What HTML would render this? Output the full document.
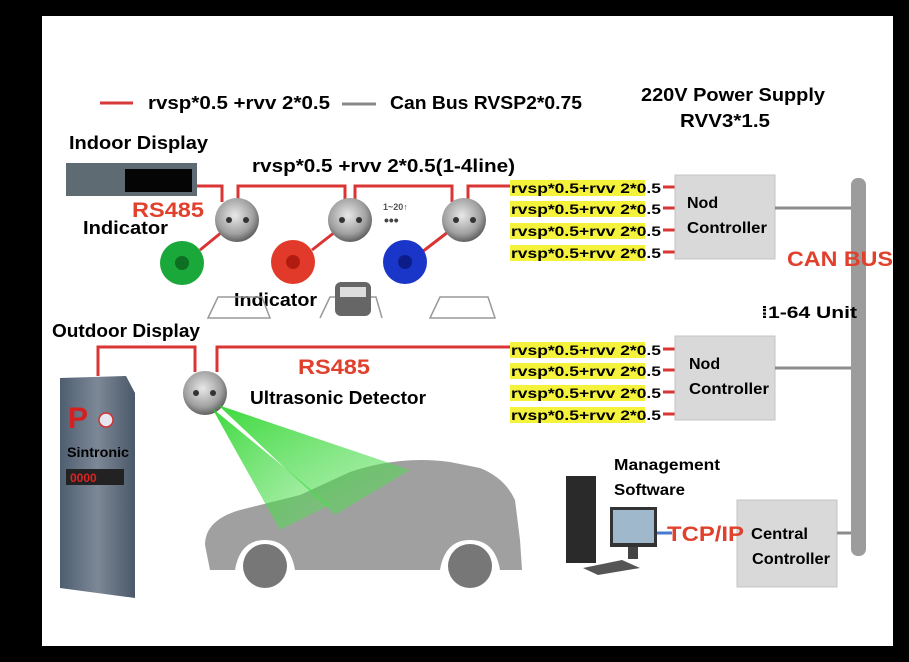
<!DOCTYPE html>
<html><head><meta charset="utf-8"><style>
html,body{margin:0;padding:0;background:#000;}
svg{display:block}
text{font-family:"Liberation Sans",sans-serif;font-weight:bold;}
</style></head><body>
<svg width="909" height="662" viewBox="0 0 909 662" xmlns="http://www.w3.org/2000/svg">
<defs>
<radialGradient id="sens" cx="45%" cy="40%" r="60%"><stop offset="0" stop-color="#e8e8e8"/><stop offset="0.7" stop-color="#a0a0a0"/><stop offset="1" stop-color="#606060"/></radialGradient>
<linearGradient id="pil" x1="0" x2="1"><stop offset="0" stop-color="#4e5e70"/><stop offset="0.5" stop-color="#7d8896"/><stop offset="1" stop-color="#4a5868"/></linearGradient>
<linearGradient id="beam" x1="0" y1="0" x2="1" y2="1"><stop offset="0" stop-color="#1bd21b"/><stop offset="1" stop-color="#5fe05f" stop-opacity="0.5"/></linearGradient>
</defs>
<rect x="42" y="16" width="851" height="630" fill="#fff"/>

<!-- legend -->
<line x1="100" y1="103" x2="133" y2="103" stroke="#d63a3a" stroke-width="3"/>
<text x="148" y="109" font-size="18" textLength="182" lengthAdjust="spacingAndGlyphs">rvsp*0.5 +rvv 2*0.5</text>
<line x1="342" y1="104" x2="376" y2="104" stroke="#888" stroke-width="3"/>
<text x="390" y="109" font-size="18" textLength="192" lengthAdjust="spacingAndGlyphs">Can Bus RVSP2*0.75</text>
<text x="641" y="101" font-size="18" textLength="184" lengthAdjust="spacingAndGlyphs">220V Power Supply</text>
<text x="680" y="127" font-size="18" textLength="90" lengthAdjust="spacingAndGlyphs">RVV3*1.5</text>

<text x="69" y="149" font-size="18" textLength="139" lengthAdjust="spacingAndGlyphs">Indoor Display</text>
<rect x="66" y="163" width="131" height="33" fill="#5e6b73"/>
<rect x="125" y="169" width="67" height="23" fill="#050505"/>
<text x="252" y="172" font-size="18" textLength="263" lengthAdjust="spacingAndGlyphs">rvsp*0.5 +rvv 2*0.5(1-4line)</text>

<!-- red top bus -->
<g fill="none" stroke="#d93535" stroke-width="3">
<path d="M197 186 H222 V202 M238 202 V186 H345 V202 M355 202 V186 H452 V202 M468 202 V186 H512"/>
<path d="M663 187 H676 M663 208 H676 M663 230 H676 M663 252 H676"/>
<path d="M98 376 V347 H195 V372 M217 372 V347 H512"/>
<path d="M663 349 H676 M663 370 H676 M663 392 H676 M663 414 H676"/>
<path d="M200 250 L222 232 M312 250 L335 232 M422 252 L448 232"/>
</g>

<!-- sensors -->
<circle cx="237" cy="220" r="22" fill="url(#sens)"/><circle cx="229" cy="220" r="3" fill="#333"/><circle cx="246" cy="220" r="3" fill="#333"/>
<circle cx="350" cy="220" r="22" fill="url(#sens)"/><circle cx="342" cy="220" r="3" fill="#333"/><circle cx="359" cy="220" r="3" fill="#333"/>
<circle cx="464" cy="220" r="22" fill="url(#sens)"/><circle cx="456" cy="220" r="3" fill="#333"/><circle cx="473" cy="220" r="3" fill="#333"/>
<circle cx="205" cy="393" r="22" fill="url(#sens)"/><circle cx="196" cy="393" r="3" fill="#333"/><circle cx="213" cy="393" r="3" fill="#333"/>
<text x="383" y="210" font-size="9" font-weight="normal" fill="#555">1~20↑</text>
<text x="384" y="225" font-size="14" fill="#444">•••</text>

<!-- indicators -->
<circle cx="182" cy="263" r="22" fill="#1aa83a"/><circle cx="182" cy="263" r="7" fill="#0d6f22"/>
<circle cx="293" cy="262" r="22" fill="#e23a2a"/><circle cx="293" cy="262" r="7" fill="#b21c10"/>
<circle cx="405" cy="262" r="22" fill="#1a36c8"/><circle cx="405" cy="262" r="7" fill="#0c1d8a"/>
<text x="132" y="217" font-size="21" fill="#e0402c" textLength="72" lengthAdjust="spacingAndGlyphs">RS485</text>
<text x="83" y="234" font-size="18" textLength="85" lengthAdjust="spacingAndGlyphs">Indicator</text>
<text x="234" y="306" font-size="18" textLength="83" lengthAdjust="spacingAndGlyphs">Indicator</text>
<!-- trapezoids -->
<g fill="none" stroke="#999" stroke-width="1.5">
<path d="M208 318 L218 297 H262 L270 318 Z"/><path d="M320 318 L330 297 H376 L382 318"/><path d="M430 318 L440 297 H488 L495 318 Z"/>
</g>
<rect x="335" y="282" width="36" height="34" rx="6" fill="#666"/><rect x="340" y="287" width="26" height="10" fill="#ddd"/>

<!-- yellow labels -->
<g font-size="14">
<rect x="510" y="180" width="135" height="16" fill="#f4f23a"/><text x="511" y="193" textLength="150" lengthAdjust="spacingAndGlyphs">rvsp*0.5+rvv 2*0.5</text>
<rect x="510" y="201" width="135" height="16" fill="#f4f23a"/><text x="511" y="214" textLength="150" lengthAdjust="spacingAndGlyphs">rvsp*0.5+rvv 2*0.5</text>
<rect x="510" y="223" width="135" height="16" fill="#f4f23a"/><text x="511" y="236" textLength="150" lengthAdjust="spacingAndGlyphs">rvsp*0.5+rvv 2*0.5</text>
<rect x="510" y="245" width="135" height="16" fill="#f4f23a"/><text x="511" y="258" textLength="150" lengthAdjust="spacingAndGlyphs">rvsp*0.5+rvv 2*0.5</text>
<rect x="510" y="342" width="135" height="16" fill="#f4f23a"/><text x="511" y="355" textLength="150" lengthAdjust="spacingAndGlyphs">rvsp*0.5+rvv 2*0.5</text>
<rect x="510" y="363" width="135" height="16" fill="#f4f23a"/><text x="511" y="376" textLength="150" lengthAdjust="spacingAndGlyphs">rvsp*0.5+rvv 2*0.5</text>
<rect x="510" y="385" width="135" height="16" fill="#f4f23a"/><text x="511" y="398" textLength="150" lengthAdjust="spacingAndGlyphs">rvsp*0.5+rvv 2*0.5</text>
<rect x="510" y="407" width="135" height="16" fill="#f4f23a"/><text x="511" y="420" textLength="150" lengthAdjust="spacingAndGlyphs">rvsp*0.5+rvv 2*0.5</text>
</g>

<!-- controllers -->
<rect x="675" y="175" width="100" height="84" fill="#d9d9d9" stroke="#c4c4c4"/>
<text x="687" y="208" font-size="16">Nod</text><text x="687" y="233" font-size="16" textLength="80" lengthAdjust="spacingAndGlyphs">Controller</text>
<rect x="675" y="336" width="100" height="84" fill="#d9d9d9" stroke="#c4c4c4"/>
<text x="689" y="369" font-size="16">Nod</text><text x="689" y="394" font-size="16" textLength="80" lengthAdjust="spacingAndGlyphs">Controller</text>
<rect x="737" y="500" width="100" height="87" fill="#d9d9d9" stroke="#c4c4c4"/>
<text x="751" y="539" font-size="16" textLength="57" lengthAdjust="spacingAndGlyphs">Central</text><text x="752" y="564" font-size="16" textLength="78" lengthAdjust="spacingAndGlyphs">Controller</text>
<g stroke="#8c8c8c" stroke-width="3"><line x1="775" y1="208" x2="852" y2="208"/><line x1="775" y1="368" x2="852" y2="368"/><line x1="837" y1="533" x2="852" y2="533"/></g>
<rect x="851" y="178" width="15" height="378" rx="7" fill="#9c9c9c"/>
<text x="787" y="266" font-size="21" fill="#e0402c" textLength="106" lengthAdjust="spacingAndGlyphs">CAN BUS</text>
<text x="761" y="318" font-size="17" textLength="96" lengthAdjust="spacingAndGlyphs">⁞1-64 Unit</text>

<!-- outdoor -->
<text x="52" y="337" font-size="18" textLength="148" lengthAdjust="spacingAndGlyphs">Outdoor Display</text>
<path d="M60 378 L126 376 L135 393 L135 598 L60 588 Z" fill="url(#pil)"/>
<text x="68" y="428" font-size="30" font-weight="normal" fill="#d42020">P</text>
<circle cx="106" cy="420" r="7" fill="#e6e6f0" stroke="#c33" stroke-width="1.5"/>
<text x="67" y="457" font-size="14" textLength="62" lengthAdjust="spacingAndGlyphs">Sintronic</text>
<rect x="66" y="469" width="58" height="16" fill="#222"/><text x="70" y="482" font-size="12" fill="#d22">0000</text>
<text x="298" y="374" font-size="21" fill="#e0402c" textLength="72" lengthAdjust="spacingAndGlyphs">RS485</text>
<text x="250" y="404" font-size="18" textLength="176" lengthAdjust="spacingAndGlyphs">Ultrasonic Detector</text>

<!-- car -->
<path d="M205 545 Q205 520 240 510 L300 495 L350 472 Q400 455 450 462 L480 468 Q505 478 515 500 L520 540 L522 570 H500 Q495 540 470 540 Q445 540 440 570 H295 Q290 540 265 540 Q240 540 235 570 H210 Z" fill="#8f8f8f" opacity="0.85"/>
<circle cx="265" cy="566" r="22" fill="#777"/><circle cx="470" cy="566" r="22" fill="#777"/>
<path d="M212 408 L280 530 L330 505 Z" fill="url(#beam)" opacity="0.85"/>
<path d="M218 405 L335 515 L410 470 Z" fill="url(#beam)" opacity="0.85"/>

<!-- computer -->
<rect x="566" y="476" width="30" height="87" fill="#2a2a2a"/>
<rect x="610" y="507" width="47" height="40" fill="#333"/><rect x="613" y="510" width="41" height="33" fill="#9fb8cc"/>
<rect x="628" y="547" width="10" height="12" fill="#444"/>
<path d="M583 568 L622 560 L640 568 L598 575 Z" fill="#555"/>
<text x="614" y="470" font-size="16" textLength="106" lengthAdjust="spacingAndGlyphs">Management</text>
<text x="614" y="495" font-size="16" textLength="71" lengthAdjust="spacingAndGlyphs">Software</text>
<line x1="657" y1="533" x2="672" y2="533" stroke="#4a7ad0" stroke-width="3"/>
<text x="667" y="541" font-size="21" fill="#e0402c" textLength="77" lengthAdjust="spacingAndGlyphs">TCP/IP</text>
</svg>
</body></html>
